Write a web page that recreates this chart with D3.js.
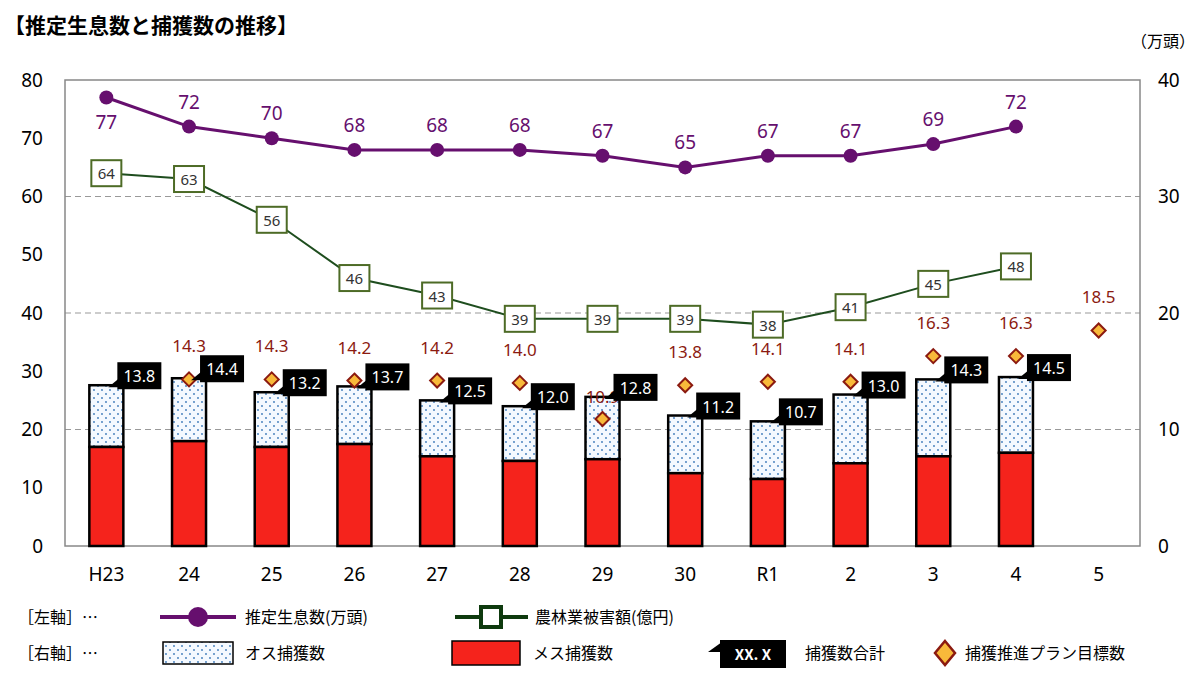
<!DOCTYPE html>
<html><head><meta charset="utf-8">
<script src="https://cdn.jsdelivr.net/npm/d3@7"></script>
<style>body{margin:0;background:#fff;font-family:"Noto Sans CJK JP","Noto Sans",sans-serif}</style>
</head><body><svg id="c" width="1200" height="674"></svg>
<script>
const categories=["H23","24","25","26","27","28","29","30","R1","2","3","4","5"];
const population=[77,72,70,68,68,68,67,65,67,67,69,72,null];
const damage=[64,63,56,46,43,39,39,39,38,41,45,48,null];
const totalCatch=[13.8,14.4,13.2,13.7,12.5,12.0,12.8,11.2,10.7,13.0,14.3,14.5,null];
const femaleCatch=[8.5,9.0,8.5,8.75,7.7,7.3,7.45,6.25,5.75,7.1,7.7,8.0,null];
const targets=[null,14.3,14.3,14.2,14.2,14.0,10.9,13.8,14.1,14.1,16.3,16.3,18.5];
const leftTicks=[0,10,20,30,40,50,60,70,80];
const rightTicks=[0,10,20,30,40];

const svg=d3.select("#c");
const L=65,R=1140,T=80,B=546;
const x=d3.scaleBand().domain(categories).range([L,R]);
const yL=d3.scaleLinear().domain([0,80]).range([B,T]);
const yR=d3.scaleLinear().domain([0,40]).range([B,T]);
const cx=c=>x(c)+x.bandwidth()/2;
const defs=svg.append("defs");
const p=defs.append("pattern").attr("id","dots").attr("width",8).attr("height",8).attr("patternUnits","userSpaceOnUse");
p.append("rect").attr("width",8).attr("height",8).attr("fill","#f4f9ff");
p.append("circle").attr("cx",2).attr("cy",2).attr("r",0.9).attr("fill","#3a78b8");
p.append("circle").attr("cx",6).attr("cy",6).attr("r",0.9).attr("fill","#3a78b8");

svg.append("text").attr("x",4).attr("y",33).attr("font-size",21).attr("font-weight","bold").text("【推定生息数と捕獲数の推移】");
svg.append("text").attr("x",1195).attr("y",47).attr("text-anchor","end").attr("font-size",16).text("（万頭）");

// grid
svg.append("g").selectAll("line").data([20,40,60]).join("line")
 .attr("x1",L).attr("x2",R).attr("y1",d=>yL(d)).attr("y2",d=>yL(d))
 .attr("stroke","#999").attr("stroke-dasharray","6,4");
svg.append("rect").attr("x",L).attr("y",T).attr("width",R-L).attr("height",B-T).attr("fill","none").attr("stroke","#888").attr("stroke-width",1.5);

// axes
const gl=svg.append("g").attr("transform",`translate(${L},0)`).call(d3.axisLeft(yL).tickValues(leftTicks).tickSize(0).tickPadding(22));
const gr=svg.append("g").attr("transform",`translate(${R},0)`).call(d3.axisRight(yR).tickValues(rightTicks).tickSize(0).tickPadding(18));
const gx=svg.append("g").attr("transform",`translate(0,${B})`).call(d3.axisBottom(x).tickSize(0).tickPadding(22));
[gl,gr,gx].forEach(g=>{g.select(".domain").remove();g.selectAll("text").attr("font-size",19).attr("font-family","Noto Sans,sans-serif").attr("fill","#000");});

// bars
const bw=34;
const bd=categories.map((c,i)=>({c,t:totalCatch[i],f:femaleCatch[i]})).filter(d=>d.t!=null);
svg.append("g").selectAll("rect").data(bd).join("rect")
 .attr("x",d=>cx(d.c)-bw/2).attr("width",bw).attr("y",d=>yR(d.t)).attr("height",d=>yR(d.f)-yR(d.t))
 .attr("fill","url(#dots)").attr("stroke","#000").attr("stroke-width",2.5);
svg.append("g").selectAll("rect").data(bd).join("rect")
 .attr("x",d=>cx(d.c)-bw/2).attr("width",bw).attr("y",d=>yR(d.f)).attr("height",d=>B-yR(d.f))
 .attr("fill","#f5231c").attr("stroke","#000").attr("stroke-width",2.5);

// targets
const td=categories.map((c,i)=>({c,v:targets[i]})).filter(d=>d.v!=null);
svg.append("g").selectAll("path").data(td).join("path")
 .attr("d",d=>{const X=cx(d.c),Y=yR(d.v);return `M${X},${Y-7}L${X+7},${Y}L${X},${Y+7}L${X-7},${Y}Z`;})
 .attr("fill","#f8b93a").attr("stroke","#8b1a10").attr("stroke-width",2);
svg.append("g").selectAll("text").data(td).join("text")
 .attr("x",d=>cx(d.c)).attr("y",d=>yR(d.v)-(d.v===10.9?16:27)).attr("text-anchor","middle")
 .attr("font-size",17).attr("fill","#8b1a10").attr("font-family","Noto Sans,sans-serif").text(d=>d.v.toFixed(1));

// total labels
const lg=svg.append("g").selectAll("g").data(bd).join("g").attr("transform",d=>`translate(${cx(d.c)},${yR(d.t)})`);
lg.append("path").attr("d","M2,2 L14,-8 L14,2 Z").attr("fill","#000");
lg.append("rect").attr("x",11).attr("y",-23).attr("width",44).attr("height",27).attr("fill","#000");
lg.append("text").attr("x",33).attr("y",-3).attr("text-anchor","middle").attr("fill","#fff").attr("font-size",16).attr("font-family","Noto Sans,sans-serif").text(d=>d.t.toFixed(1));

// damage line
const dd=categories.map((c,i)=>({c,v:damage[i]})).filter(d=>d.v!=null);
svg.append("path").datum(dd).attr("d",d3.line().x(d=>cx(d.c)).y(d=>yL(d.v))).attr("fill","none").attr("stroke","#1e4d1e").attr("stroke-width",2);
const dg=svg.append("g").selectAll("g").data(dd).join("g").attr("transform",d=>`translate(${cx(d.c)},${yL(d.v)})`);
dg.append("rect").attr("x",-15).attr("y",-13).attr("width",30).attr("height",26).attr("fill","#fff").attr("stroke","#4d6b26").attr("stroke-width",2);
dg.append("text").attr("y",6).attr("text-anchor","middle").attr("font-size",15).attr("fill","#333").attr("font-family","Noto Sans,sans-serif").text(d=>d.v);

// population line
const pd=categories.map((c,i)=>({c,v:population[i]})).filter(d=>d.v!=null);
svg.append("path").datum(pd).attr("d",d3.line().x(d=>cx(d.c)).y(d=>yL(d.v))).attr("fill","none").attr("stroke","#660f6e").attr("stroke-width",3);
svg.append("g").selectAll("circle").data(pd).join("circle").attr("cx",d=>cx(d.c)).attr("cy",d=>yL(d.v)).attr("r",7).attr("fill","#660f6e");
svg.append("g").selectAll("text").data(pd).join("text")
 .attr("x",d=>cx(d.c)).attr("y",(d,i)=>i===0?yL(d.v)+32:yL(d.v)-18).attr("text-anchor","middle")
 .attr("font-size",19).attr("fill","#660f6e").attr("font-family","Noto Sans,sans-serif").text(d=>d.v);

// legend
const leg=svg.append("g").attr("font-size",16);
leg.append("text").attr("x",18).attr("y",623).text("［左軸］…");
leg.append("text").attr("x",18).attr("y",659).text("［右軸］…");
leg.append("line").attr("x1",160).attr("x2",236).attr("y1",617).attr("y2",617).attr("stroke","#660f6e").attr("stroke-width",4);
leg.append("circle").attr("cx",198).attr("cy",617).attr("r",10).attr("fill","#660f6e");
leg.append("text").attr("x",245).attr("y",623).text("推定生息数(万頭)");
leg.append("line").attr("x1",455).attr("x2",528).attr("y1",617).attr("y2",617).attr("stroke","#0e3a0e").attr("stroke-width",4);
leg.append("rect").attr("x",481).attr("y",607).attr("width",20).attr("height",20).attr("fill","#fff").attr("stroke","#0e3a0e").attr("stroke-width",4);
leg.append("text").attr("x",535).attr("y",623).text("農林業被害額(億円)");
leg.append("rect").attr("x",163).attr("y",642).attr("width",70).attr("height",22).attr("fill","url(#dots)").attr("stroke","#000").attr("stroke-width",1.5);
leg.append("text").attr("x",245).attr("y",659).text("オス捕獲数");
leg.append("rect").attr("x",452).attr("y",641).attr("width",68).attr("height",24).attr("fill","#f5231c").attr("stroke","#000").attr("stroke-width",1.5);
leg.append("text").attr("x",533).attr("y",659).text("メス捕獲数");
leg.append("path").attr("d","M708,652 L722,642 L722,652 Z").attr("fill","#000");
leg.append("rect").attr("x",720).attr("y",640).attr("width",66).attr("height",28).attr("fill","#000");
leg.append("text").attr("x",753).attr("y",660).attr("text-anchor","middle").attr("fill","#fff").attr("font-weight","bold").attr("font-size",15).text("XX. X");
leg.append("text").attr("x",805).attr("y",659).text("捕獲数合計");
leg.append("path").attr("d","M945,641 L955,653 L945,665 L935,653 Z").attr("fill","#f8b93a").attr("stroke","#8b1a10").attr("stroke-width",2.5);
leg.append("text").attr("x",965).attr("y",659).text("捕獲推進プラン目標数");
</script></body></html>
